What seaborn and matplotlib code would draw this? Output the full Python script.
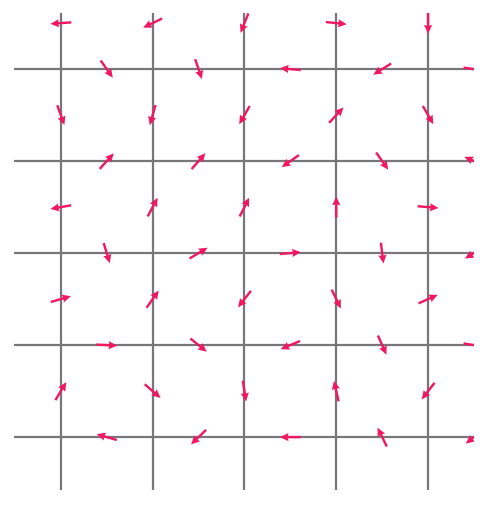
import numpy as np
import pandas as pd
import matplotlib
matplotlib.use("Agg")
import matplotlib.pyplot as plt
import seaborn as sns

# Grid positions
grid_x = [1, 2, 3, 4, 5]
grid_y = [1, 2, 3, 4, 5]
cols_on_line = [1, 2, 3, 4, 5]
cols_between = [1.5, 2.5, 3.5, 4.5, 5.5]
row_y = [5.5, 5, 4.5, 4, 3.5, 3, 2.5, 2, 1.5, 1]

# Arrow directions (degrees, counter-clockwise from east), one list per row
angles_A = [184, 206, 248, 354, 270]
angles_B = [305, 289, 175, 212, 352]
angles_C = [290, 254, 240, 47, 300]
angles_D = [48, 49, 215, 305, 156]
angles_E = [190, 62, 63, 90, 355]
angles_F = [287, 31, 5, 277, 211]
angles_G = [16, 55, 232, 296, 24]
angles_H = [357, 321, 203, 294, 351]
angles_I = [59, 319, 279, 103, 232]
angles_J = [164, 224, 180, 116, 218]

rows = [angles_A, angles_B, angles_C, angles_D, angles_E,
        angles_F, angles_G, angles_H, angles_I, angles_J]

recs = []
for i, (yv, angs) in enumerate(zip(row_y, rows)):
    xs = cols_on_line if i % 2 == 0 else cols_between
    for xv, a in zip(xs, angs):
        recs.append({"x": xv, "y": yv, "angle": a})
df = pd.DataFrame(recs)
df["u"] = np.cos(np.deg2rad(df["angle"]))
df["v"] = np.sin(np.deg2rad(df["angle"]))

sns.set_style("white")
fig = plt.figure(figsize=(4.88, 5.06), dpi=100)
W, H = 488, 506
ax = fig.add_axes([14 / W, (H - 491) / H, 460 / W, 477 / H])

ax.set_xlim(0.49, 5.5)
ax.set_ylim(0.425, 5.61)
ax.set_xticks(grid_x)
ax.set_yticks(grid_y)
ax.set_xticklabels([])
ax.set_yticklabels([])
ax.tick_params(length=0)
for s in ax.spines.values():
    s.set_visible(False)
ax.grid(True, color="#777777", linewidth=1.6)
ax.set_axisbelow(True)

ax.quiver(df["x"], df["y"], df["u"], df["v"],
          angles="uv", pivot="middle",
          scale_units="dots", scale=1 / 21.0,
          units="dots", width=2.4,
          headwidth=3.4, headlength=3.6, headaxislength=3.3,
          color="#f0185e", zorder=3)

fig.savefig("out.png", dpi=100)
